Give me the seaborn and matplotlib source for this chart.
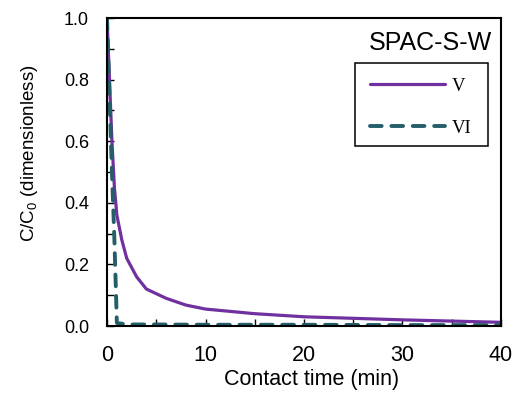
import matplotlib
matplotlib.use("Agg")
import matplotlib.pyplot as plt
import seaborn as sns
import pandas as pd
from matplotlib.ticker import MultipleLocator
from matplotlib.patches import Rectangle

time_v = [0, 0.25, 0.5, 0.75, 1, 1.5, 2, 3, 4, 6, 8, 10, 15, 20, 25, 30, 35, 40]
conc_v = [1.0, 0.80, 0.60, 0.45, 0.36, 0.28, 0.22, 0.16, 0.12, 0.09, 0.068, 0.055, 0.04, 0.03, 0.025, 0.02, 0.016, 0.012]
time_vi = [0, 0.5, 0.75, 1, 2, 5, 10, 20, 30, 40]
conc_vi = [1.0, 0.50, 0.28, 0.01, 0.005, 0.005, 0.004, 0.004, 0.003, 0.003]
series_names = ["V", "VI"]
legend_title = "SPAC-S-W"
x_ticks = [0, 10, 20, 30, 40]
y_ticks = [0.0, 0.2, 0.4, 0.6, 0.8, 1.0]

sns.set_style("white")
plt.rcParams["font.family"] = ["Liberation Sans", "DejaVu Sans"]
plt.rcParams["mathtext.default"] = "regular"
plt.rcParams["text.color"] = "black"
plt.rcParams["axes.labelcolor"] = "black"
plt.rcParams["xtick.color"] = "black"
plt.rcParams["ytick.color"] = "black"

df_v = pd.DataFrame({"t": time_v, "c": conc_v})
df_vi = pd.DataFrame({"t": time_vi, "c": conc_vi})

fig = plt.figure(figsize=(5.13, 4.01), dpi=100)
ax = fig.add_axes([0.2086, 0.187, 0.768, 0.768])

sns.lineplot(data=df_v, x="t", y="c", ax=ax, color="#7030A0", lw=2.3,
             label=series_names[0], sort=False)
sns.lineplot(data=df_vi, x="t", y="c", ax=ax, color="#245E69", lw=2.8,
             label=series_names[1], sort=False)
ax.lines[1].set_linestyle((0, (3, 2.5)))
ax.lines[1].set_dash_capstyle("round")

ax.set_xlim(0, 40)
ax.set_ylim(0, 1.0)
ax.set_xticks(x_ticks)
ax.set_yticks(y_ticks)
ax.set_yticklabels([f"{v:.1f}" for v in y_ticks])
ax.xaxis.set_minor_locator(MultipleLocator(5))
ax.yaxis.set_minor_locator(MultipleLocator(0.1))
ax.tick_params(which="both", direction="in", length=5, width=1, colors="black",
               bottom=True, left=True)
ax.tick_params(axis="x", which="major", labelsize=15.5, pad=14)
ax.tick_params(axis="y", which="major", labelsize=13, pad=13)
for s in ax.spines.values():
    s.set_color("black")
    s.set_linewidth(1.5)

ax.set_xlabel("Contact time (min)", fontsize=15.5)
ax.set_ylabel("C/C$_0$ (dimensionless)", fontsize=13.5)
ax.xaxis.set_label_coords(0.52, -0.14)
ax.yaxis.set_label_coords(-0.17, 0.562)

handles = ax.lines[:2]
leg = ax.legend(handles=handles, labels=series_names, loc="upper left",
                bbox_to_anchor=(0.6675, 0.807), frameon=False,
                handlelength=4.0, borderpad=0, borderaxespad=0,
                labelspacing=1.35, handletextpad=0.35,
                prop={"family": "Liberation Serif", "size": 13.5})
ax.add_patch(Rectangle((0.629, 0.584), 0.338, 0.27, transform=ax.transAxes,
                       fill=False, edgecolor="black", lw=1.1, zorder=5))
ax.text(0.82, 0.919, legend_title, transform=ax.transAxes, ha="center",
        va="center", fontsize=18)

fig.savefig("out.png", dpi=100)
